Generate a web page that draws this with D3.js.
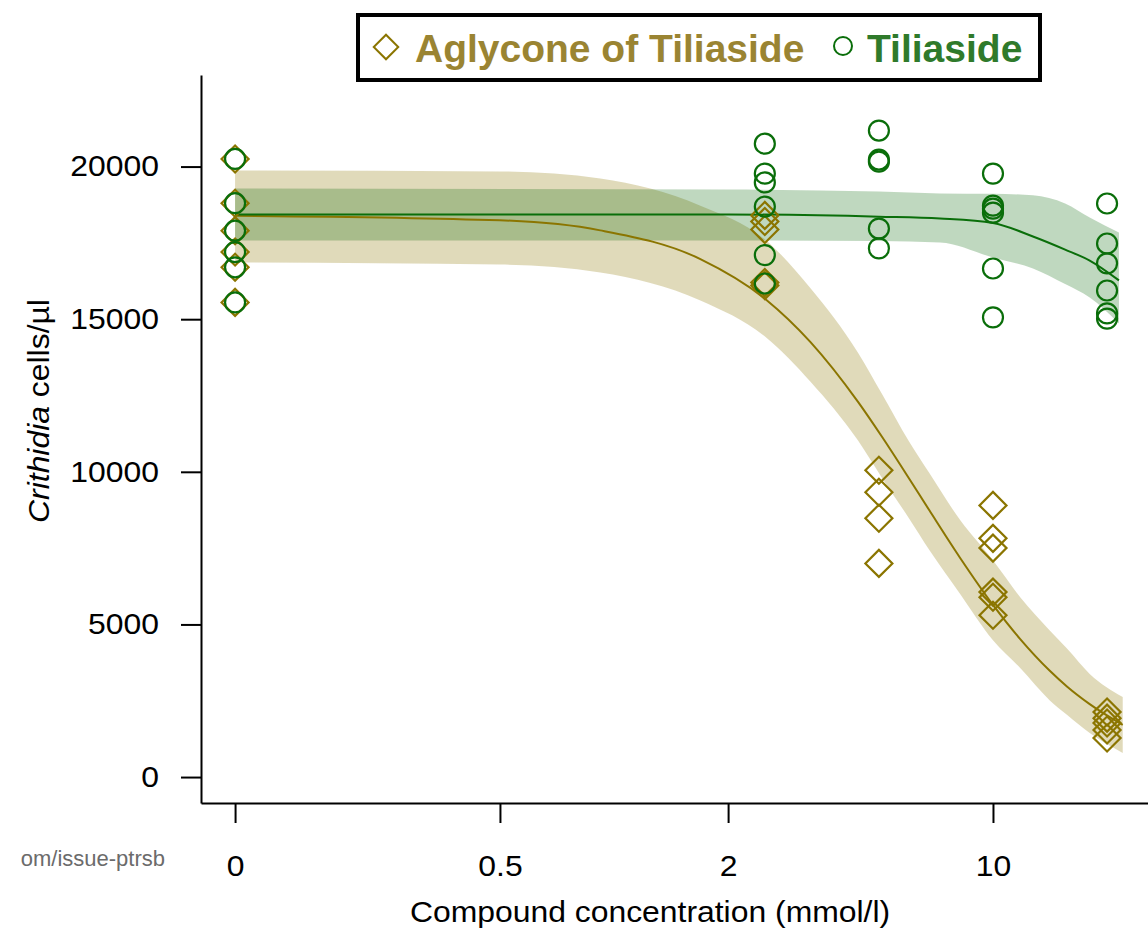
<!DOCTYPE html>
<html>
<head>
<meta charset="utf-8">
<script src="https://cdn.jsdelivr.net/npm/d3@7"></script>
<style>
  body { margin: 0; background: #fff; }
  svg { display: block; font-family: "Liberation Sans", Arial, sans-serif; }
</style>
</head>
<body>
<svg id="chart" width="1148" height="930"></svg>
<script>
// doses in mmol/l, 0 is drawn at the position of 0.1 on the log axis
const doses = [0, 2.5, 5, 10, 20];
const zeroAt = 0.1;
const xTickValues = [0.1, 0.5, 2, 10];
const xTickLabels = ["0", "0.5", "2", "10"];
const yTickValues = [0, 5000, 10000, 15000, 20000];

const controlCells = [20250, 18800, 17900, 17200, 16700, 15550];

const aglyconeCells = [
  controlCells,
  [18400, 18200, 17940, 16200, 16100],
  [10050, 9330, 8480, 7000],
  [8900, 7820, 7500, 6060, 5890, 5300],
  [2130, 1930, 1770, 1540, 1280],
];

const tiliasideCells = [
  controlCells,
  [20750, 19770, 19480, 18690, 17100, 16170],
  [21180, 20230, 20160, 17970, 17320],
  [19770, 18720, 18620, 18490, 16660, 15060],
  [18790, 17480, 16830, 15940, 15190, 15020],
];

// fitted curves and confidence bands
const aglyconeFitConc = [0.1, 0.5, 0.92, 1.69, 2.52, 3.3, 4.4, 5.1, 6, 6.8, 8.2, 10, 11.8, 14.1, 15.7, 18, 22];
const aglyconeFit =   [18390, 18240, 17910, 16970, 15640, 14250, 12300, 11140, 9790, 8730, 7170, 5640, 4520, 3490, 2960, 2390, 1710];
const aglyconeUpper = [19870, 19840, 19610, 18720, 17580, 16010, 13910, 12540, 11000, 9950, 8410, 7100, 5890, 4810, 4200, 3380, 2620];
const aglyconeLower = [16860, 16790, 16530, 15610, 14400, 12950, 11030, 9790, 8480, 7430, 5990, 4480, 3570, 2520, 2030, 1440, 790];

const tiliasideFitConc = [0.1, 2, 5, 7.25, 10, 12.75, 15.5, 18, 21.5];
const tiliasideFit =   [18430, 18430, 18360, 18300, 18150, 17710, 17280, 16920, 16270];
const tiliasideUpper = [19280, 19250, 19180, 19120, 19110, 19060, 18790, 18330, 17840];
const tiliasideLower = [17580, 17580, 17560, 17510, 17020, 16660, 16150, 15710, 14860];

const olive = "#8b7500";
const green = "#0a6e0a";

const svg = d3.select("#chart");

const x = d3.scaleLog().domain([0.0813, 25.65]).range([201, 1148]);
const y = d3.scaleLinear().domain([-850, 23000]).range([803, 75]);
const xd = (d) => (d === 0 ? zeroAt : d);

// bands
const band = (conc, lo, hi) =>
  d3.area()
    .x((_d, i) => x(conc[i]))
    .y0((_d, i) => y(lo[i]))
    .y1((_d, i) => y(hi[i]))
    .curve(d3.curveMonotoneX)(conc);

const fitLine = (conc, vals) =>
  d3.line()
    .x((_d, i) => x(conc[i]))
    .y((_d, i) => y(vals[i]))
    .curve(d3.curveMonotoneX)(conc);

svg.append("path")
  .attr("d", band(aglyconeFitConc, aglyconeLower, aglyconeUpper))
  .attr("fill", "rgba(139,117,0,0.27)");

svg.append("path")
  .attr("d", band(tiliasideFitConc, tiliasideLower, tiliasideUpper))
  .attr("fill", "rgba(0,100,0,0.25)");

svg.append("path")
  .attr("d", fitLine(aglyconeFitConc, aglyconeFit))
  .attr("fill", "none")
  .attr("stroke", olive)
  .attr("stroke-width", 2);

svg.append("path")
  .attr("d", fitLine(tiliasideFitConc, tiliasideFit))
  .attr("fill", "none")
  .attr("stroke", green)
  .attr("stroke-width", 2);

// points
const flat = (cells) =>
  cells.flatMap((vals, i) => vals.map((v) => ({ dose: doses[i], value: v })));

const diamond = d3.symbol(d3.symbolSquare, 365);

svg.append("g")
  .selectAll("path")
  .data(flat(aglyconeCells))
  .join("path")
  .attr("d", diamond)
  .attr("transform", (d) => `translate(${x(xd(d.dose))},${y(d.value)}) rotate(45)`)
  .attr("fill", "none")
  .attr("stroke", olive)
  .attr("stroke-width", 2.2);

svg.append("g")
  .selectAll("circle")
  .data(flat(tiliasideCells))
  .join("circle")
  .attr("cx", (d) => x(xd(d.dose)))
  .attr("cy", (d) => y(d.value))
  .attr("r", 10)
  .attr("fill", "none")
  .attr("stroke", green)
  .attr("stroke-width", 2.2);

// axes
const xAxisG = svg.append("g")
  .attr("transform", "translate(0,803)")
  .call(
    d3.axisBottom(x)
      .tickValues(xTickValues)
      .tickFormat((_d, i) => xTickLabels[i])
      .tickSize(20)
      .tickSizeOuter(0)
  );

const yAxisG = svg.append("g")
  .attr("transform", "translate(201,0)")
  .call(
    d3.axisLeft(y)
      .tickValues(yTickValues)
      .tickFormat(d3.format("d"))
      .tickSize(20)
      .tickSizeOuter(0)
  );

[xAxisG, yAxisG].forEach((g) => {
  g.select(".domain").attr("stroke", "#000").attr("stroke-width", 2);
  g.selectAll(".tick line").attr("stroke", "#000").attr("stroke-width", 2);
  g.selectAll(".tick text")
    .attr("fill", "#000")
    .style("font-size", "29px")
    .style("font-family", "'Liberation Sans', Arial, sans-serif");
});

xAxisG.selectAll(".tick text")
  .attr("y", 73)
  .attr("dy", 0)
  .attr("transform", "scale(1.1,1)");

yAxisG.selectAll(".tick text")
  .attr("x", -42 / 1.1)
  .attr("transform", "scale(1.1,1)");

svg.append("text")
  .attr("transform", "translate(650,922) scale(1.1,1)")
  .attr("text-anchor", "middle")
  .style("font-size", "29px")
  .text("Compound concentration (mmol/l)");

const yTitle = svg.append("text")
  .attr("transform", "translate(49,411) rotate(-90) scale(1.1,1)")
  .attr("text-anchor", "middle")
  .style("font-size", "29px");
yTitle.append("tspan").style("font-style", "italic").text("Crithidia");
yTitle.append("tspan").text(" cells/µl");

svg.append("text")
  .attr("x", 165)
  .attr("y", 866)
  .attr("text-anchor", "end")
  .attr("fill", "#6b6b6b")
  .style("font-size", "22px")
  .text("om/issue-ptrsb");

// legend
const legend = svg.append("g");
legend.append("rect")
  .attr("x", 358)
  .attr("y", 15)
  .attr("width", 682)
  .attr("height", 65)
  .attr("fill", "#fff")
  .attr("stroke", "#000")
  .attr("stroke-width", 4);

legend.append("path")
  .attr("d", d3.symbol(d3.symbolSquare, 300)())
  .attr("transform", "translate(386,47) rotate(45)")
  .attr("fill", "none")
  .attr("stroke", olive)
  .attr("stroke-width", 2);

legend.append("text")
  .attr("x", 415)
  .attr("y", 62)
  .attr("fill", "#9a8432")
  .style("font-size", "39px")
  .style("font-weight", "bold")
  .text("Aglycone of Tiliaside");

legend.append("circle")
  .attr("cx", 843)
  .attr("cy", 46)
  .attr("r", 9)
  .attr("fill", "none")
  .attr("stroke", green)
  .attr("stroke-width", 2);

legend.append("text")
  .attr("x", 867)
  .attr("y", 62)
  .attr("fill", "#2f7a2b")
  .style("font-size", "39px")
  .style("font-weight", "bold")
  .text("Tiliaside");
</script>
</body>
</html>
